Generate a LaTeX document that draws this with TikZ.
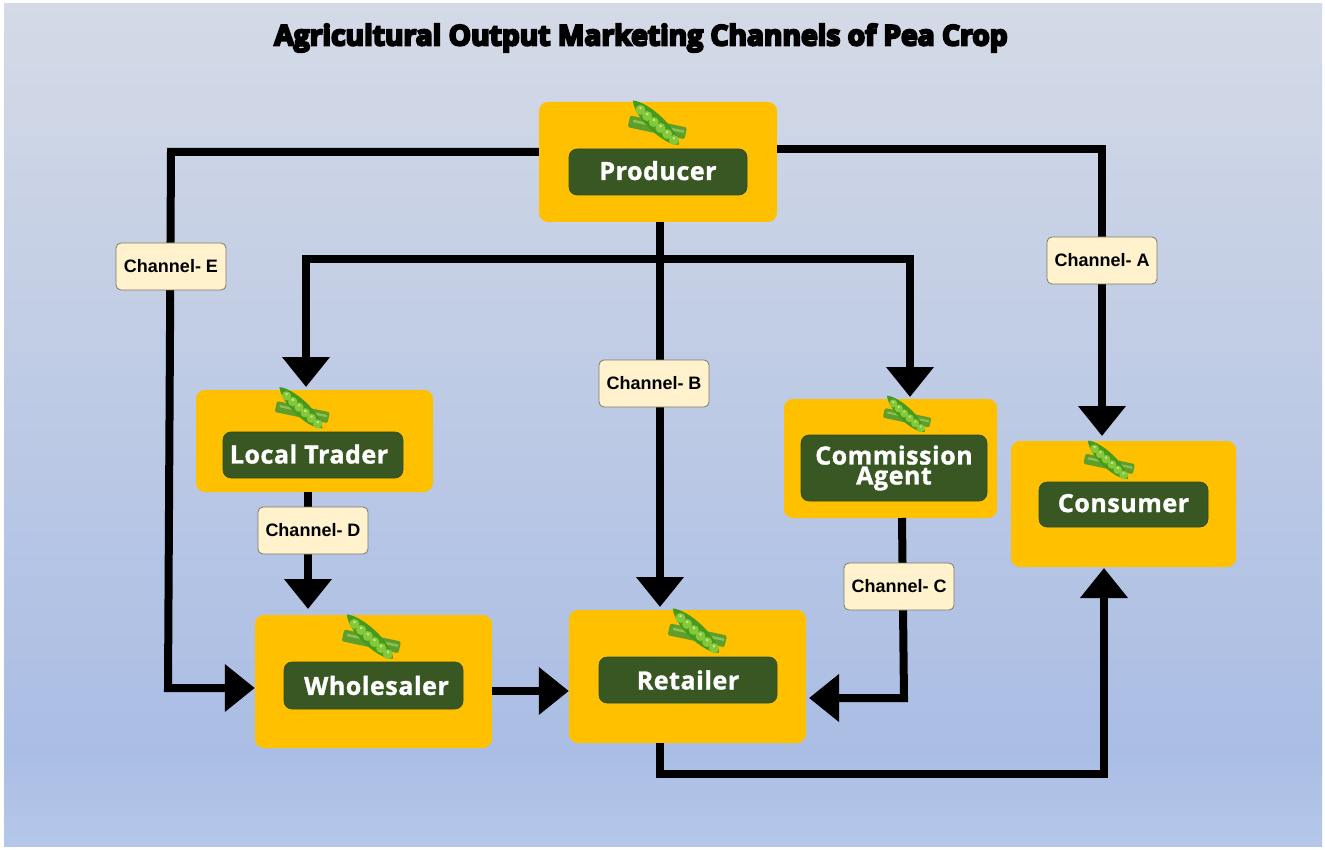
\documentclass[tikz,border=0pt]{standalone}
\usepackage{fontspec}
\usetikzlibrary{arrows.meta,calc}
\setmainfont{Open Sans}
\newfontfamily\labfont{Liberation Sans}
\newfontfamily\boxfont[BoldFeatures={LetterSpace=2.2,FakeBold=1.3}]{Open Sans}
\newfontfamily\titfont[BoldFeatures={FakeBold=7.5}]{Open Sans}
\definecolor{boxgold}{HTML}{FFC000}
\definecolor{boxgreen}{HTML}{385723}
\definecolor{chanfill}{HTML}{FFF2CC}
\definecolor{chanline}{HTML}{7F7A62}
\definecolor{bgtop}{HTML}{D4DAE6}
\definecolor{bgmid}{HTML}{AABDE4}
\definecolor{bgbot}{HTML}{B5C7E9}
\definecolor{podclosed}{HTML}{5E9E2C}
\definecolor{podlight}{HTML}{8DC050}
\definecolor{podopen}{HTML}{469A1C}
\definecolor{podpea}{HTML}{85C83A}
\definecolor{podshine}{HTML}{C2E48A}
\tikzset{
  outer/.style={fill=boxgold,rounded corners=9pt,inner sep=0pt},
  inner/.style={fill=boxgreen,draw=boxgreen!85!black,line width=.6pt,rounded corners=8pt,inner sep=0pt,align=center,
    text=white,font=\boxfont\bfseries\fontsize{25}{21}\selectfont},
  chan/.style={fill=chanfill,draw=chanline,line width=.8pt,rounded corners=5pt,minimum width=110pt,minimum height=47pt,inner sep=0pt,
    font=\labfont\bfseries\fontsize{18}{20}\selectfont},
  flow/.style={line width=8pt,draw=black,line join=miter},
  flowa/.style={flow,-{Triangle[width=46pt,length=30pt]}},
  pea/.pic={
    \begin{scope}[rotate=-12,shift={(2,3)}]
      \fill[podclosed,rounded corners=2pt] (-29,-6) rectangle (29,6);
      \fill[podlight] (-25,-2.5) rectangle (27,0);
    \end{scope}
    \begin{scope}[rotate=-42]
      \fill[podopen] (-33,-2) .. controls (-20,-12) and (20,-11) .. (31,0) .. controls (20,11) and (-20,10) .. (-33,-2) -- cycle;
      \foreach \q in {-21,-12,-3,6,15,24}{
        \fill[podpea] (\q,0) circle (5pt);
        \fill[podshine] (\q-1.2,-1.5) circle (1.6pt);
      }
    \end{scope}
  }
}
\begin{document}
\begin{tikzpicture}[x=1pt,y=-1pt]
\useasboundingbox (0,0) rectangle (1325,850);
\fill[white] (0,0) rectangle (1325,850);
\fill[top color=bgtop,bottom color=bgmid] (4,4) rectangle (1322,750);
\fill[top color=bgmid,bottom color=bgbot] (4,750) rectangle (1322,846);

\node[font=\titfont\bfseries\fontsize{28.2}{30}\selectfont,text=black,inner sep=0pt] (title) at (641,38) {Agricultural Output Marketing Channels of Pea Crop};

\node[outer,minimum width=238pt,minimum height=120pt] (producer) at (658,162) {};
\node[outer,minimum width=237pt,minimum height=102pt] (local) at (314.5,441) {};
\node[outer,minimum width=213pt,minimum height=119pt] (agent) at (890.5,458.5) {};
\node[outer,minimum width=225pt,minimum height=126pt] (consumer) at (1123.5,504) {};
\node[outer,minimum width=237pt,minimum height=133pt] (wholesaler) at (373.5,681.5) {};
\node[outer,minimum width=237pt,minimum height=133pt] (retailer) at (687.5,676.5) {};

\coordinate (split) at (660,259);
\coordinate (ebend) at (171,152);
\coordinate (ebend2) at (168,688);
\coordinate (abend) at (1102,149);

\draw[flowa] (producer.west |- ebend) -- (ebend) -- (ebend2) -- (wholesaler.west |- ebend2);
\draw[flowa] (producer.east |- abend) -- (abend) -- (1102,436);
\draw[flowa] (660,222) -- (660,607);
\draw[flowa] (split) -- (306,259) -- (306,387);
\draw[flowa] (split) -- (910,259) -- (910,397);
\draw[flowa] (308,492) -- (308,609);
\draw[flowa] (wholesaler.east |- 0,691) -- (retailer.west |- 0,691);
\draw[flowa] (902,518) -- (904,698) -- (809,698);
\draw[flowa] (660,743) -- (660,774) -- (1104,774) -- (1104,568);

\node[inner,minimum width=178pt,minimum height=46pt] (producerL) at (658,172) {\raisebox{3pt}{Producer}};
\node[inner,minimum width=180pt,minimum height=46pt] (localL) at (313,455) {\raisebox{2pt}{\kern-8pt Local Trader}};
\node[inner,minimum width=186pt,minimum height=66pt] (agentL) at (894,468) {Commission\\[-1pt]Agent};
\node[inner,minimum width=169pt,minimum height=45pt] (consumerL) at (1123.5,504.5) {\raisebox{3pt}{Consumer}};
\node[inner,minimum width=179pt,minimum height=47pt] (wholesalerL) at (373.5,685.5) {\kern6pt Wholesaler};
\node[inner,minimum width=178pt,minimum height=46pt] (retailerL) at (688,680) {Retailer};

\pic at (656,124) {pea};
\pic[scale=.93] at (301,409) {pea};
\pic[scale=.82] at (906,415) {pea};
\pic[scale=.87] at (1108,461) {pea};
\pic at (370,638) {pea};
\pic at (696,632) {pea};

\node[chan] (chE) at (171,266.5) {Channel- E};
\node[chan] (chA) at (1102,260.5) {Channel- A};
\node[chan] (chB) at (654,383.5) {Channel- B};
\node[chan] (chD) at (313,530.5) {Channel- D};
\node[chan] (chC) at (899,586.5) {Channel- C};
\end{tikzpicture}
\end{document}
